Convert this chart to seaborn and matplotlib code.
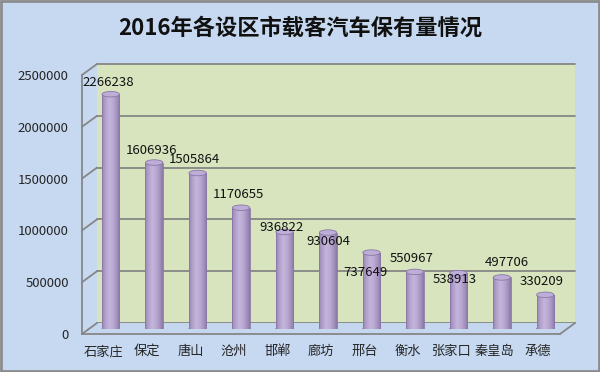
import numpy as np
import pandas as pd
import seaborn as sns
import matplotlib.pyplot as plt
from matplotlib.patches import Ellipse, Polygon, Rectangle
from matplotlib.lines import Line2D
from matplotlib.colors import LinearSegmentedColormap

# data
cities = ['石家庄', '保定', '唐山', '沧州', '邯郸', '廊坊', '邢台', '衡水', '张家口', '秦皇岛', '承德']
counts = [2266238, 1606936, 1505864, 1170655, 936822, 930604, 737649, 550967, 538913, 497706, 330209]
y_ticks = [0, 500000, 1000000, 1500000, 2000000, 2500000]
title = '2016年各设区市载客汽车保有量情况'

# label nudges (pixels, right / up) to mimic the original placement
label_dx = [-2.5, -3, -3, -2.5, -3, 0, -6, -3.5, -3.5, 4.5, -4]
label_dy = [12, 12.5, 13, 13, 4, -9, -20, 13, -6, 15, 13]

sns.set_style('white')
plt.rcParams['font.family'] = ['Noto Sans CJK SC', 'DejaVu Sans']

BG = '#C6D9F1'
WALL = '#D7E4BD'
GRID = '#868686'
EDGE = '#8a77a8'
W, H = 600, 372


def rect(l, t, r, b):
  return [l / W, 1 - b / H, (r - l) / W, (b - t) / H]


fig = plt.figure(figsize=(6, 3.72), dpi=100)
fig.patch.set_facecolor(BG)

back = fig.add_axes(rect(97, 64, 575, 323))
mid = fig.add_axes(rect(89, 70, 567, 329))
front = fig.add_axes(rect(82, 75, 560, 334))
back.set_zorder(0)
mid.set_zorder(2)
front.set_zorder(3)

ymax = y_ticks[-1]
xlim = (-0.5, len(cities) - 0.5)

# back wall
back.set_facecolor(WALL)
back.set_xlim(*xlim)
back.set_ylim(0, ymax)
for v in y_ticks:
  back.axhline(v, color=GRID, lw=1.3, clip_on=False)
back.set_xticks([])
back.set_yticks([])
for s in back.spines.values():
  s.set_visible(False)

# bars
df = pd.DataFrame({'city': cities, 'count': counts})
sns.barplot(data=df, x='city', y='count', color='#B3A2C7', width=0.4, ax=mid,
            saturation=1, zorder=2)
mid.set_xlim(*xlim)
mid.set_ylim(0, ymax)
mid.patch.set_alpha(0)
mid.axis('off')

fig.canvas.draw()
px_per_unit = mid.get_window_extent().height / ymax
eh = 5.5 / px_per_unit

cmap = LinearSegmentedColormap.from_list(
    'cyl', ['#9885b5', '#b3a2cc', '#c4b5dc', '#bcabd4', '#a896c2', '#8b78a6'])
grad = np.linspace(0, 1, 64)[None, :]

for i, p in enumerate(mid.patches):
  x0 = p.get_x()
  w = p.get_width()
  h = p.get_height()
  xc = x0 + w / 2
  p.set_edgecolor('none')
  im = mid.imshow(grad, extent=[x0, x0 + w, 0, h], aspect='auto', cmap=cmap,
                  zorder=2.5)
  im.set_clip_path(p)
  mid.add_patch(Ellipse((xc, 0), w, eh, facecolor='#a08dbb', edgecolor=EDGE,
                        lw=0.6, zorder=1.5))
  mid.plot([x0, x0], [0, h], color=EDGE, lw=0.6, zorder=2.6)
  mid.plot([x0 + w, x0 + w], [0, h], color=EDGE, lw=0.6, zorder=2.6)
  mid.add_patch(Ellipse((xc, h), w, eh, facecolor='#bdaed8', edgecolor=EDGE,
                        lw=0.6, zorder=3))
  mid.annotate(f'{counts[i]}', (xc, h), xytext=(label_dx[i] * 0.72, label_dy[i] * 0.72),
               textcoords='offset points', ha='center', va='center',
               fontsize=9.5, color='#111111', zorder=4)
mid.set_xlim(*xlim)
mid.set_ylim(0, ymax)

# front axis
front.patch.set_alpha(0)
front.set_xlim(*xlim)
front.set_ylim(0, ymax)
front.set_yticks(y_ticks)
front.set_yticklabels([str(v) for v in y_ticks], fontsize=9.5)
front.set_xticks(range(len(cities)))
front.set_xticklabels(cities, fontsize=9.5)
front.tick_params(axis='y', length=0, pad=9.5)
front.tick_params(axis='x', length=0, pad=8)
for side in ['top', 'right']:
  front.spines[side].set_visible(False)
for side in ['left', 'bottom']:
  front.spines[side].set_color(GRID)
  front.spines[side].set_linewidth(1.3)

# depth lines and floor
inv = fig.transFigure.inverted()
for v in y_ticks:
  a = inv.transform(front.transData.transform((xlim[0], v)))
  b = inv.transform(back.transData.transform((xlim[0], v)))
  fig.add_artist(Line2D([a[0], b[0]], [a[1], b[1]], color=GRID, lw=1.3, zorder=1))

corners = [back.transData.transform((xlim[0], 0)), back.transData.transform((xlim[1], 0)),
           front.transData.transform((xlim[1], 0)), front.transData.transform((xlim[0], 0))]
corners = [inv.transform(c) for c in corners]
fig.add_artist(Polygon(corners, closed=True, facecolor='#C4D7EF', edgecolor='none',
                       zorder=0.5))
fig.add_artist(Line2D([corners[1][0], corners[2][0]], [corners[1][1], corners[2][1]],
                      color=GRID, lw=1.3, zorder=1))

fig.text(0.5, 1 - 28 / H, title, ha='center', va='center', fontsize=16,
         fontweight='bold', color='#111111')

fig.add_artist(Rectangle((0.0015, 0.002), 0.997, 0.996, fill=False, edgecolor='#8c8c8c',
                         lw=2, transform=fig.transFigure, zorder=10))

fig.savefig('out.png', dpi=100, facecolor=BG)
